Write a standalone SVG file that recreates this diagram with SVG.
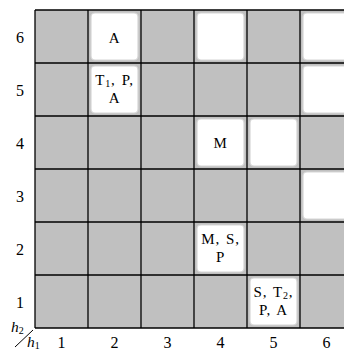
<svg xmlns="http://www.w3.org/2000/svg" width="344" height="352" viewBox="0 0 344 352">
<style>
.bg{fill:#c0c0c0}
.grid line{stroke:#000;stroke-width:1.3}
.cell{fill:#fff;stroke:#d6d6d6;stroke-width:1.2}
text{font-family:"Liberation Serif","DejaVu Serif",serif;fill:#000}
.lab{font-size:16px;text-anchor:middle}
.ct{font-size:15px;text-anchor:middle;letter-spacing:0.8px;word-spacing:1.5px}
.sub{font-size:10px}
.it{font-style:italic;font-size:15.5px}
</style>
<rect class="bg" x="35" y="10" width="320" height="318"/>
<g id="grid" class="grid">
<line x1="35" y1="10" x2="344" y2="10"/>
<line x1="35" y1="63" x2="344" y2="63"/>
<line x1="35" y1="116" x2="344" y2="116"/>
<line x1="35" y1="169" x2="344" y2="169"/>
<line x1="35" y1="222" x2="344" y2="222"/>
<line x1="35" y1="275" x2="344" y2="275"/>
<line x1="35" y1="328" x2="344" y2="328"/>
<line x1="35" y1="10" x2="35" y2="328"/>
<line x1="88" y1="10" x2="88" y2="328"/>
<line x1="141" y1="10" x2="141" y2="328"/>
<line x1="194" y1="10" x2="194" y2="328"/>
<line x1="247" y1="10" x2="247" y2="328"/>
<line x1="300" y1="10" x2="300" y2="328"/>
</g>
<g id="c2-6"><rect class="cell" x="91" y="13" width="47" height="47" rx="4"/><text class="ct" x="114.5" y="43">A</text></g>
<g id="c4-6"><rect class="cell" x="197" y="13" width="47" height="47" rx="4"/></g>
<g id="c6-6"><rect class="cell" x="303" y="13" width="47" height="47" rx="4"/></g>
<g id="c2-5"><rect class="cell" x="91" y="66" width="47" height="47" rx="4"/><text class="ct" x="114.5" y="85">T<tspan class="sub" dy="2">1</tspan><tspan dy="-2">, P,</tspan></text><text class="ct" x="114.5" y="103">A</text></g>
<g id="c6-5"><rect class="cell" x="303" y="66" width="47" height="47" rx="4"/></g>
<g id="c4-4"><rect class="cell" x="197" y="119" width="47" height="47" rx="4"/><text class="ct" x="220.5" y="148">M</text></g>
<g id="c5-4"><rect class="cell" x="250" y="119" width="47" height="47" rx="4"/></g>
<g id="c6-3"><rect class="cell" x="303" y="172" width="47" height="47" rx="4"/></g>
<g id="c4-2"><rect class="cell" x="197" y="225" width="47" height="47" rx="4"/><text class="ct" x="220.5" y="244">M, S,</text><text class="ct" x="220.5" y="262">P</text></g>
<g id="c5-1"><rect class="cell" x="250" y="278" width="47" height="47" rx="4"/><text class="ct" x="273.5" y="297">S, T<tspan class="sub" dy="2">2</tspan><tspan dy="-2">,</tspan></text><text class="ct" x="273.5" y="315">P, A</text></g>
<g id="rowlabels" class="lab">
<text x="20" y="43">6</text>
<text x="20" y="96">5</text>
<text x="20" y="149">4</text>
<text x="20" y="202">3</text>
<text x="20" y="255">2</text>
<text x="20" y="308">1</text>
</g>
<g id="collabels" class="lab">
<text x="61.5" y="348">1</text>
<text x="114.5" y="348">2</text>
<text x="167.5" y="348">3</text>
<text x="220.5" y="348">4</text>
<text x="273.5" y="348">5</text>
<text x="326.5" y="348">6</text>
</g>
<g id="corner">
<text class="it" x="11" y="332">h<tspan class="sub" font-style="normal" dy="2">2</tspan></text>
<line x1="15" y1="347" x2="33" y2="330" stroke="#000" stroke-width="1"/>
<text class="it" x="27" y="347">h<tspan class="sub" font-style="normal" dy="2">1</tspan></text>
</g>
</svg>
